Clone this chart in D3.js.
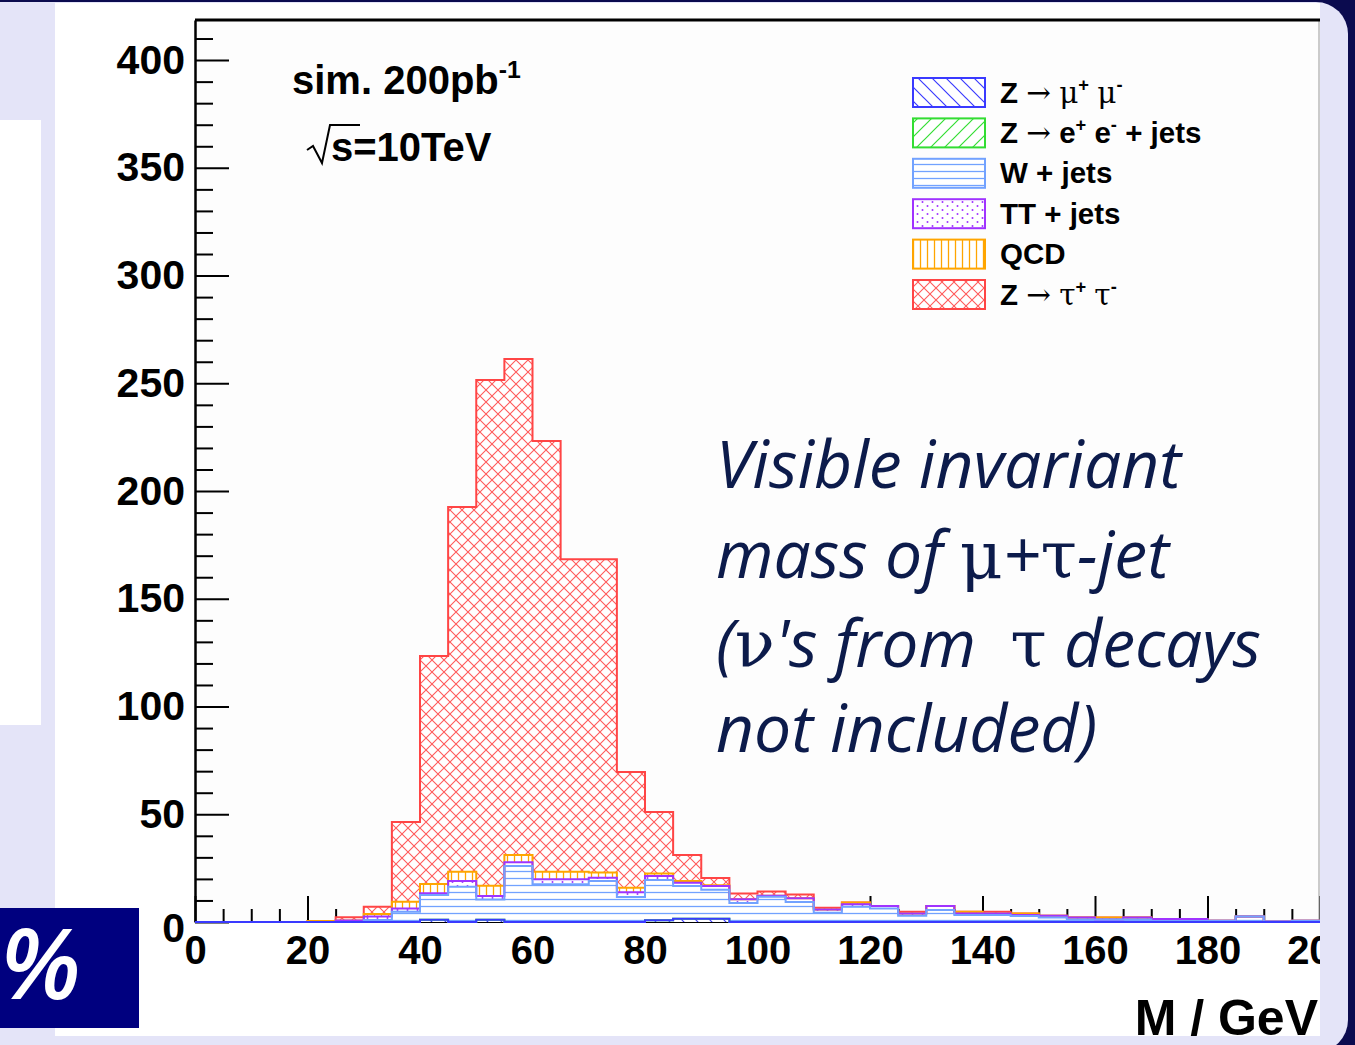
<!DOCTYPE html>
<html>
<head>
<meta charset="utf-8">
<script src="https://cdn.jsdelivr.net/npm/d3@7"></script>
<style>
  body { margin: 0; background: #e4e4f8; }
  svg { display: block; }
</style>
</head>
<body>
<svg width="1355" height="1045"></svg>
<script>
// bin lower edges in GeV (5 GeV bins)
const binLow = [0, 5, 10, 15, 20, 25, 30, 35, 40, 45, 50, 55, 60, 65, 70, 75, 80, 85, 90, 95,
  100, 105, 110, 115, 120, 125, 130, 135, 140, 145, 150, 155, 160, 165, 170, 175, 180, 185, 190, 195];
const binWidth = 5;

// events per bin for each sample, stacked bottom -> top
const zmumu = [0, 0, 0, 0, 0, 0, 0, 0, 1.0, 0, 1.0, 0, 0, 0, 0, 0, 0.8, 1.5, 1.5, 0,
  0, 0, 0, 0, 0, 0, 0, 0, 0, 0, 0, 0, 0, 0, 0, 0, 0, 0, 0, 0];
const zee = [0, 0, 0, 0, 0, 0, 0, 0, 0, 0, 0, 0, 0, 0, 0, 0, 0, 0, 0, 0,
  0, 0, 0, 0, 0, 0, 0, 0, 0, 0, 0, 0, 0, 0, 0, 0, 0, 0, 0, 0];
const wjets = [0, 0, 0, 0, 0, 0, 0.9, 4.8, 11.5, 16.4, 9.5, 26.0, 17.5, 17.5, 19.0, 11.6, 18.7, 15.2, 13.5, 8.8,
  11.7, 9.3, 4.3, 7.1, 6.3, 2.9, 5.6, 3.2, 3.2, 2.8, 2.1, 1.2, 1.2, 1.2, 0.5, 0.5, 0.6, 2.6, 0.2, 0.6];
const ttjets = [0, 0, 0, 0, 0, 0.7, 1.6, 1.5, 0.8, 2.6, 1.6, 1.7, 2.3, 2.3, 1.5, 2.2, 1.8, 1.5, 1.7, 1.8,
  0.5, 1.7, 1.5, 1.1, 1.1, 1.1, 1.8, 0.8, 0.8, 0.4, 0.8, 0.9, 0, 0.9, 0.9, 0.9, 0, 0, 0, 0];
const qcd = [0, 0, 0, 0, 0.5, 0, 1.2, 3.1, 4.3, 4.3, 4.7, 3.4, 3.5, 3.5, 2.5, 2.1, 1.2, 0.8, 0.3, 0,
  0, 0, 0, 0.9, 0, 0, 0, 0.8, 0, 0.8, 0, 0, 0.9, 0, 0, 0, 0, 0, 0, 0];
const ztautau = [0, 0, 0, 0, 0, 1.5, 3.4, 37.0, 105.8, 169.3, 234.7, 230.2, 199.9, 145.1, 145.4, 53.7, 28.5, 12.1, 3.4, 2.6,
  2.0, 1.8, 0.8, 0, 0, 0.8, 0, 0, 0.8, 0, 0, 0, 0, 0, 0, 0, 0, 0, 0, 0];

const xTickLabels = [0, 20, 40, 60, 80, 100, 120, 140, 160, 180, 200];
const yTickLabels = [0, 50, 100, 150, 200, 250, 300, 350, 400];
const legendLabels = [
  "Z \u2192 \u03bc^{+} \u03bc^{-}",
  "Z \u2192 e^{+} e^{-} + jets",
  "W + jets",
  "TT + jets",
  "QCD",
  "Z \u2192 \u03c4^{+} \u03c4^{-}"
];
const annotationLines = [
  "Visible invariant",
  "mass of \u03bc+\u03c4-jet",
  "(\u03bd's from  \u03c4 decays",
  "not included)"
];

const svg = d3.select("svg");
const W = 1355, H = 1045;
const boldFont = "'Liberation Sans', Arial, sans-serif";
const symbolFont = "'DejaVu Serif', serif";

// ---- slide background ----
svg.append("rect").attr("width", W).attr("height", H).attr("fill", "#0b0b4f");
svg.append("rect").attr("x", -40).attr("y", 2).attr("width", 1388).attr("height", 1050)
  .attr("rx", 32).attr("fill", "#e4e4f8");
svg.append("rect").attr("x", 0).attr("y", 120).attr("width", 41).attr("height", 605).attr("fill", "#ffffff");

// clip everything of the plot to the white panel
const defs = svg.append("defs");
defs.append("clipPath").attr("id", "panel")
  .append("rect").attr("x", 55).attr("y", 3).attr("width", 1265).attr("height", 1033);

const panel = svg.append("g").attr("clip-path", "url(#panel)");
panel.append("rect").attr("x", 55).attr("y", 3).attr("width", 1265).attr("height", 1033).attr("fill", "#ffffff");

// ---- fill patterns (ROOT style hatches) ----
function hatch(id, size, d, color, width) {
  const p = defs.append("pattern").attr("id", id).attr("patternUnits", "userSpaceOnUse")
    .attr("width", size).attr("height", size);
  p.append("path").attr("d", d).attr("stroke", color).attr("stroke-width", width).attr("fill", "none");
  return p;
}
const colors = ["#3a3aff", "#33dd33", "#72a2ff", "#a033ff", "#ffa500", "#ff4545"];
hatch("p0", 14, "M0,0L14,14M-7,7L7,21M7,-7L21,7", colors[0], 1.2);
hatch("p1", 14, "M0,14L14,0M-7,7L7,-7M7,21L21,7", colors[1], 1.2);
hatch("p2", 7, "M0,3.5H7", colors[2], 1.3);
const dots = defs.append("pattern").attr("id", "p3").attr("patternUnits", "userSpaceOnUse")
  .attr("width", 10).attr("height", 8);
dots.append("circle").attr("cx", 2.5).attr("cy", 2).attr("r", 1).attr("fill", colors[3]);
dots.append("circle").attr("cx", 7.5).attr("cy", 6).attr("r", 1).attr("fill", colors[3]);
hatch("p4", 7, "M3.5,0V7", colors[4], 1.3);
hatch("p5", 12, "M0,0L12,12M12,0L0,12", "#ff5a5a", 1.1);

// ---- scales ----
const x = d3.scaleLinear().domain([0, 200]).range([195, 1320]);
const y = d3.scaleLinear().domain([0, 418.6]).range([922, 20]);

// plot frame
panel.append("rect").attr("x", x(0)).attr("y", y(418.6)).attr("width", x(200) - x(0))
  .attr("height", y(0) - y(418.6)).attr("fill", "#fdfdfd");
panel.append("line").attr("x1", x(200) - 1).attr("x2", x(200) - 1)
  .attr("y1", y(418.6)).attr("y2", y(0)).attr("stroke", "#999").attr("stroke-width", 1);

// y ticks (drawn inside the frame)
const yTicks = panel.append("g").attr("transform", `translate(${x(0)},0)`)
  .call(d3.axisRight(y).tickValues(d3.range(0, 411, 10)).tickFormat("").tickSizeOuter(0));
yTicks.selectAll(".tick line").attr("x2", d => (d % 50 === 0 ? 34 : 18)).attr("stroke-width", 2);
yTicks.select(".domain").attr("stroke-width", 2.5);

// y labels
const yLabels = panel.append("g").attr("transform", `translate(${x(0)},0)`)
  .call(d3.axisLeft(y).tickValues(yTickLabels).tickSize(0).tickPadding(10))
  .call(g => g.select(".domain").remove())
  .attr("font-family", boldFont).attr("font-size", 41).attr("font-weight", "bold");
yLabels.selectAll(".tick text").filter(d => d === 0).attr("dy", "0.48em");

// x ticks (pointing up)
const xTicks = panel.append("g").attr("transform", `translate(0,${y(0)})`)
  .call(d3.axisTop(x).tickValues(d3.range(0, 201, 5)).tickFormat("").tickSizeOuter(0));
xTicks.selectAll(".tick line").attr("y2", d => (d % 20 === 0 ? -26 : -13)).attr("stroke-width", 2);

// x labels
panel.append("g").attr("transform", `translate(0,${y(0)})`)
  .call(d3.axisBottom(x).tickValues(xTickLabels).tickSize(0).tickPadding(14))
  .call(g => g.select(".domain").remove())
  .attr("font-family", boldFont).attr("font-size", 40).attr("font-weight", "bold");

// top frame line
panel.append("line").attr("x1", x(0)).attr("x2", x(200)).attr("y1", y(418.6)).attr("y2", y(418.6))
  .attr("stroke", "#000").attr("stroke-width", 3);

// ---- stacked histogram ----
const samples = [zmumu, zee, wjets, ttjets, qcd, ztautau];
let below = binLow.map(() => 0);
const layers = samples.map((s, k) => {
  const top = below.map((b, i) => b + s[i]);
  const layer = { k: k, lower: below, upper: top };
  below = top;
  return layer;
});

function stepPoints(layer) {
  const pts = binLow.map((b, i) => ({ x: b, lo: layer.lower[i], hi: layer.upper[i] }));
  const n = binLow.length - 1;
  pts.push({ x: binLow[n] + binWidth, lo: layer.lower[n], hi: layer.upper[n] });
  return pts;
}

const area = d3.area().curve(d3.curveStepAfter)
  .x(d => x(d.x)).y0(d => y(d.lo)).y1(d => y(d.hi));

const hist = panel.append("g");
layers.forEach(layer => {
  hist.append("path").attr("d", area(stepPoints(layer))).attr("fill", "#ffffff");
  hist.append("path").attr("d", area(stepPoints(layer))).attr("fill", `url(#p${layer.k})`);
});

// outlines of the cumulative histograms, top one first like THStack
const outline = d3.line().curve(d3.curveStepAfter).x(d => x(d.x)).y(d => y(d.v));
layers.slice().reverse().forEach(layer => {
  const pts = [{ x: 0, v: 0 }].concat(binLow.map((b, i) => ({ x: b, v: layer.upper[i] })));
  pts.push({ x: 200, v: layer.upper[binLow.length - 1] });
  hist.append("path").attr("d", outline(pts)).attr("fill", "none")
    .attr("stroke", colors[layer.k]).attr("stroke-width", 2);
});

// ---- rich text helper: ^{..} superscripts, greek letters in a symbol font ----
function richText(sel, str, size) {
  let shift = 0;
  str.split(/(\^\{[^}]*\})/).filter(p => p.length).forEach(part => {
    const sup = part.startsWith("^{");
    const body = sup ? part.slice(2, -1) : part;
    const target = sup ? -size * 0.4 : 0;
    body.split(/([\u0370-\u03ff\u2190-\u21ff]+)/).filter(p => p.length).forEach(run => {
      const ts = sel.append("tspan").text(run).attr("dy", target - shift);
      shift = target;
      if (sup) ts.attr("font-size", size * 0.62);
      if (/[\u0370-\u03ff\u2190-\u21ff]/.test(run)) {
        ts.attr("font-family", symbolFont).attr("font-weight", "normal").attr("font-style", "normal");
      }
    });
  });
}

// ---- legend ----
const legend = panel.append("g");
legendLabels.forEach((label, i) => {
  const cy = 92.5 + i * 40.4;
  legend.append("rect").attr("x", 913).attr("y", cy - 14.5).attr("width", 72).attr("height", 29)
    .attr("fill", "#ffffff");
  legend.append("rect").attr("x", 913).attr("y", cy - 14.5).attr("width", 72).attr("height", 29)
    .attr("fill", `url(#p${i})`).attr("stroke", colors[i]).attr("stroke-width", 2);
  const t = legend.append("text").attr("x", 1000).attr("y", cy + 10)
    .attr("font-family", boldFont).attr("font-weight", "bold").attr("font-size", 29.5)
    .style("white-space", "pre");
  richText(t, label, 29.5);
});

// ---- plot labels ----
const sim = panel.append("text").attr("x", 292).attr("y", 94)
  .attr("font-family", boldFont).attr("font-weight", "bold").attr("font-size", 40);
richText(sim, "sim. 200pb^{-1}", 40);

panel.append("path").attr("d", "M307,150L313,146L322,163L330,125L360,125")
  .attr("fill", "none").attr("stroke", "#000").attr("stroke-width", 2);
panel.append("text").attr("x", 331).attr("y", 161)
  .attr("font-family", boldFont).attr("font-weight", "bold").attr("font-size", 40)
  .text("s=10TeV");

panel.append("text").attr("x", 1318).attr("y", 1035).attr("text-anchor", "end")
  .attr("font-family", boldFont).attr("font-weight", "bold").attr("font-size", 50)
  .text("M / GeV");

// ---- slide annotation ----
const annBaselines = [488, 578, 667, 752];
annotationLines.forEach((line, i) => {
  const t = panel.append("text").attr("x", 716).attr("y", annBaselines[i])
    .attr("font-family", "'Open Sans', sans-serif").attr("font-style", "italic")
    .attr("font-size", 66).attr("fill", "#0c1b4b").style("white-space", "pre");
  richText(t, line, 66);
});

// ---- bottom-left slide badge ----
svg.append("rect").attr("x", 0).attr("y", 908).attr("width", 139).attr("height", 120).attr("fill", "#00007f");
svg.append("text").attr("x", 0).attr("y", 999)
  .attr("font-family", "'Open Sans', sans-serif").attr("font-style", "italic").attr("font-weight", 600)
  .attr("font-size", 98).attr("fill", "#ffffff").text("%");
</script>
</body>
</html>
